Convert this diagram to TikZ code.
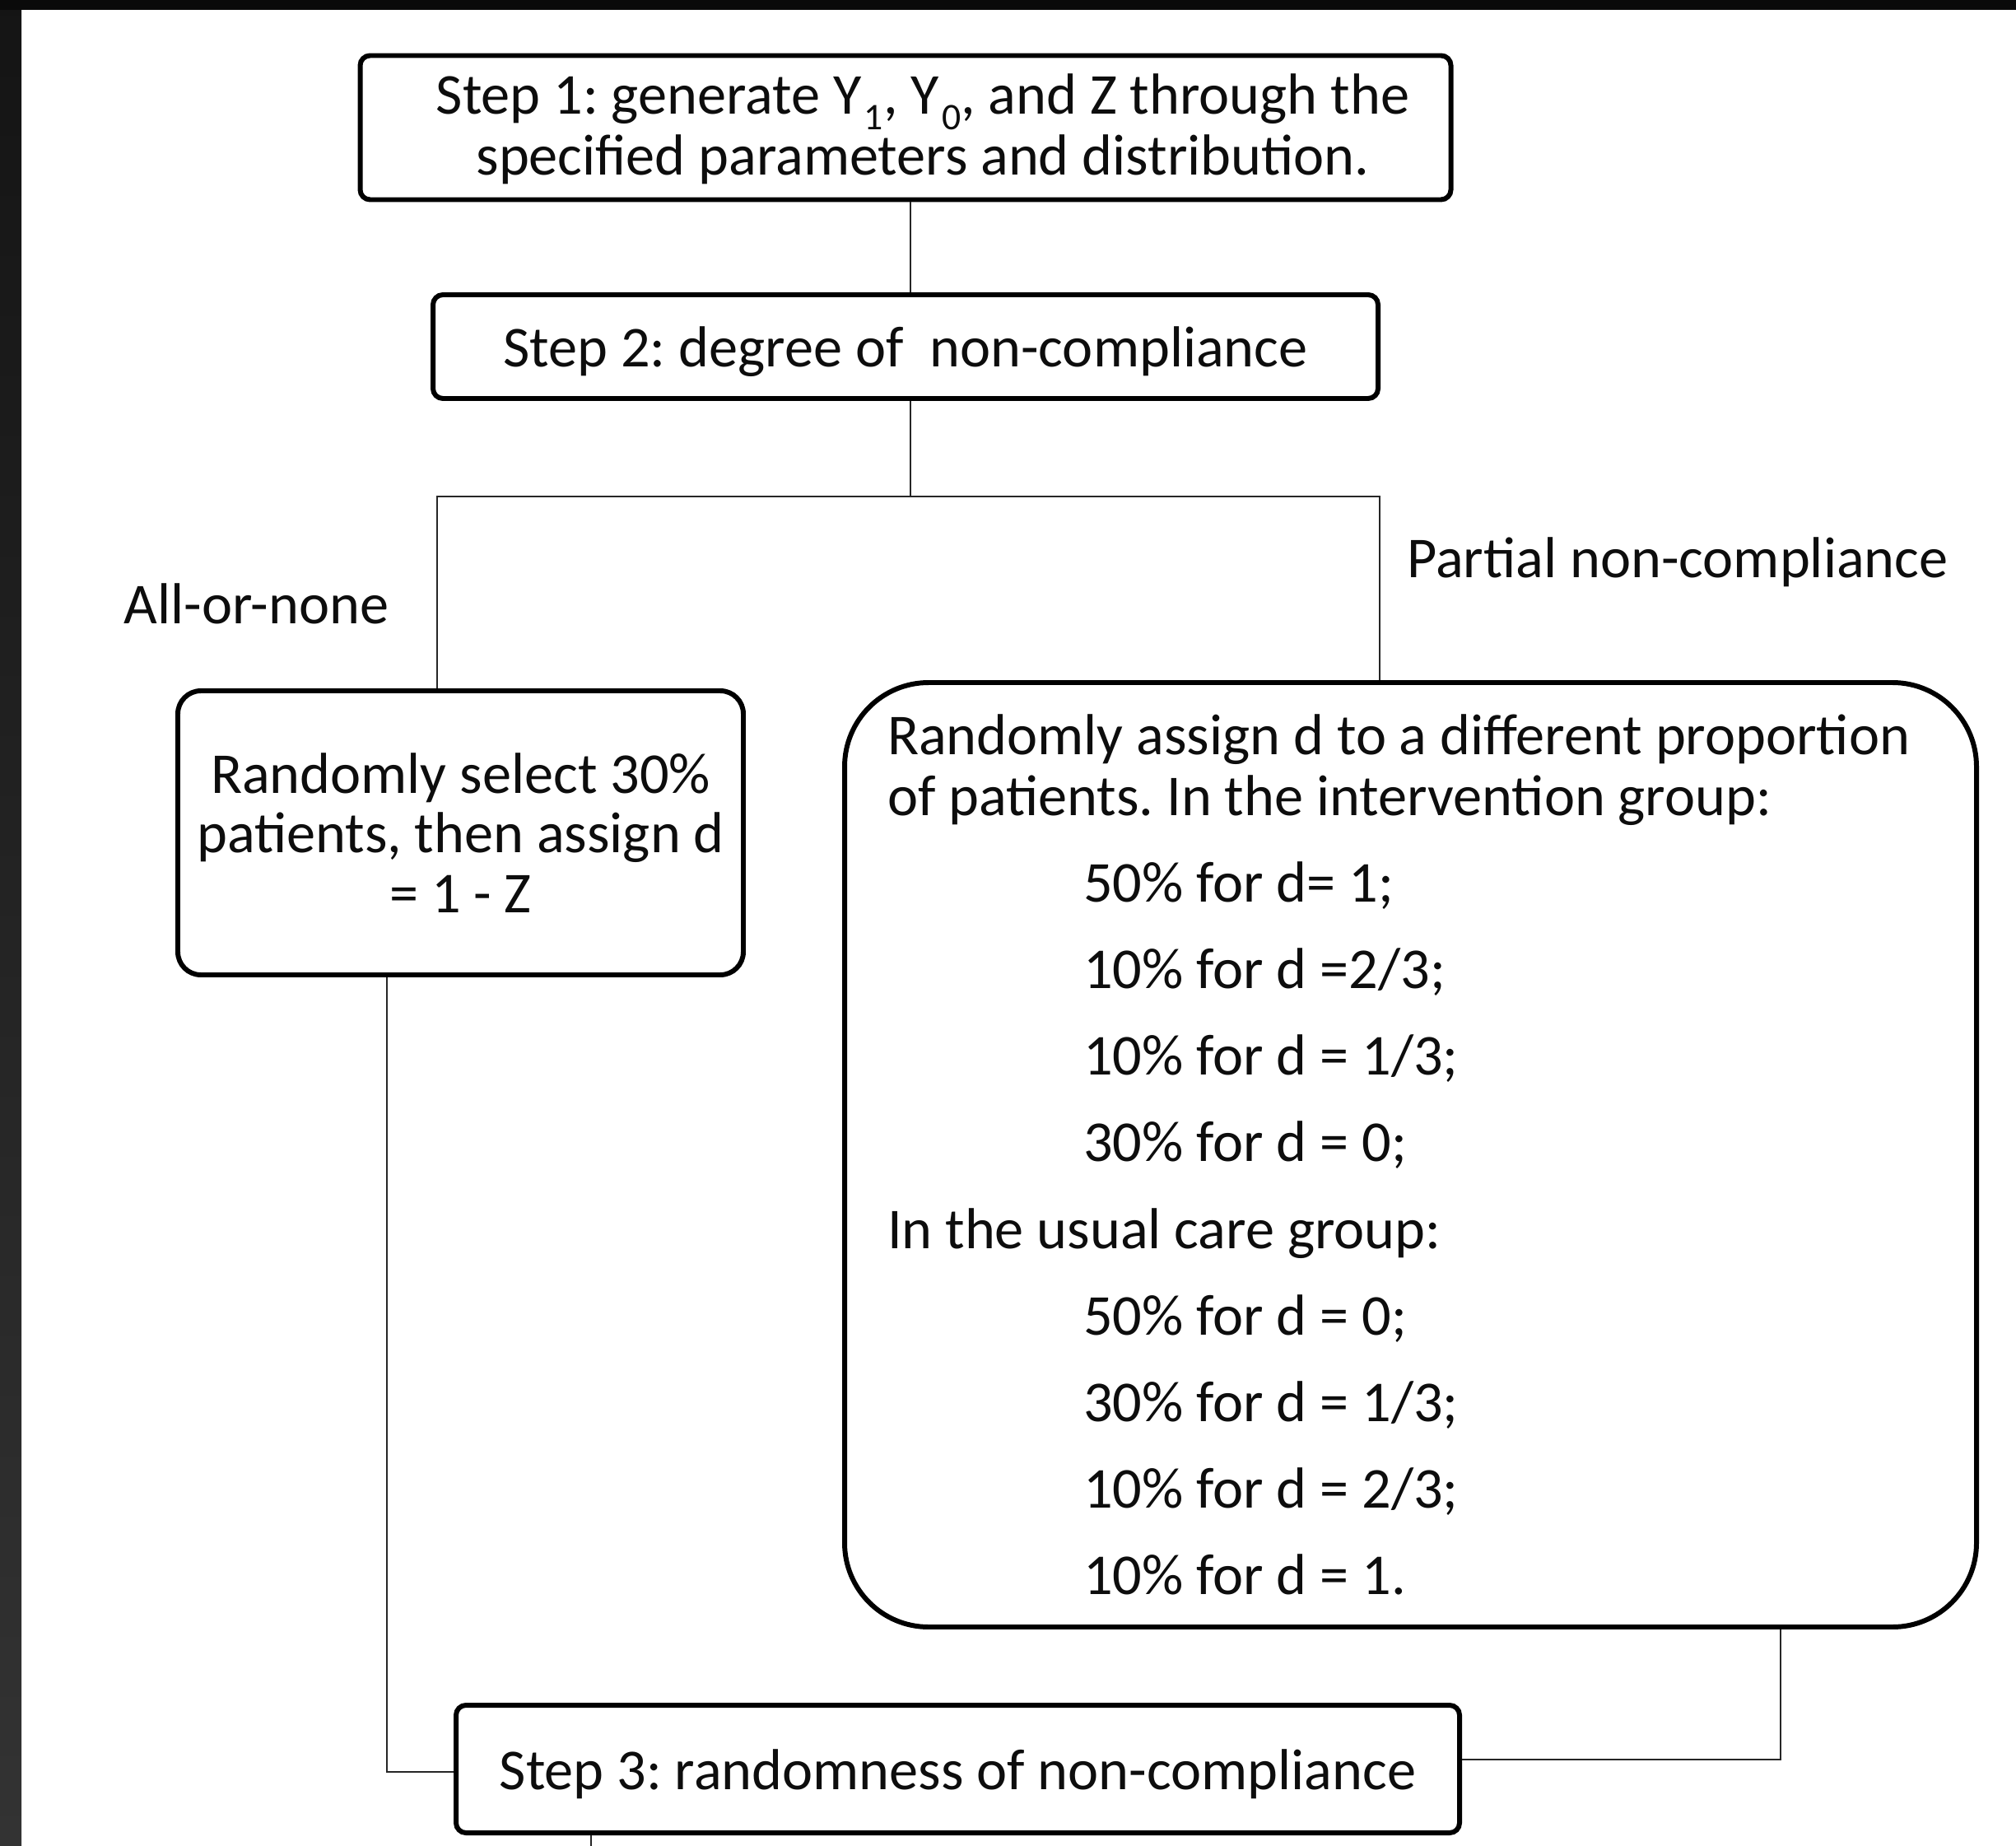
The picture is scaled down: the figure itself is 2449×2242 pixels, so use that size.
\documentclass[tikz,border=0pt]{standalone}
\usepackage{fontspec}
\setmainfont{Carlito}
% subscript set the way the word processor lowers it
\newcommand{\lowsub}[1]{\kern1pt\raisebox{-0.55ex}{\fontsize{13}{13}\selectfont #1}}
% text lowered a little without changing the box it reports
\newcommand{\drop}[1]{\raisebox{-0.6mm}[\height][\depth]{#1}}
\begin{document}
\begin{tikzpicture}[x=0.1mm, y=-0.1mm,
  txt/.style={font=\fontsize{20}{21}\selectfont\frenchspacing, text=black!95},
  flowbox/.style={txt, draw=black, line width=1.7pt, fill=white, inner sep=0pt},
  stepbox/.style={flowbox, rounded corners=1.2mm},
  softbox/.style={flowbox, rounded corners=2.8mm},
  bigbox/.style={flowbox, rounded corners=10.2mm},
  conn/.style={draw=black!85, line width=0.8pt},
  tag/.style={txt, inner sep=0pt}]

% page and dark frame strips
\useasboundingbox (0,0) rectangle (2449,2242);
\fill[white] (0,0) rectangle (2449,2242);
\shade[top color=black!92, bottom color=black!80] (0,12) rectangle (26,2242);
\fill[black!96] (0,0) rectangle (2449,12);

% boxes
\node[stepbox, minimum width=132.5mm, minimum height=17.5mm] (step1) at (1100,155)
  {\hspace*{4.2mm}\drop{\begin{tabular}{@{}c@{}}Step 1: generate Y\lowsub{1}, Y\lowsub{0}, and Z through the\\
   specified parameters and distribution.\end{tabular}}};

\node[stepbox, minimum width=114.8mm, minimum height=12.6mm] (step2) at (1100,421)
  {\drop{Step 2: degree of\ \ non-compliance}};

\node[softbox, minimum width=68.7mm, minimum height=34.5mm, align=center,
  font=\fontsize{20}{20.6}\selectfont] (allbox) at (559.5,1011.5)
  {Randomly select 30\%\\ patients, then assign d\\ = 1 - Z};

\node[bigbox, minimum width=137.5mm, minimum height=114.7mm, text width=127.1mm,
  inner xsep=5.2mm, align=flush left] (partbox) at (1713.5,1402.5)
  {Randomly assign d to a different proportion\\
   of patients. In the intervention group:\\[8.9pt]
   \hspace*{23.8mm}50\% for d= 1;\\[8.9pt]
   \hspace*{23.8mm}10\% for d =2/3;\\[8.9pt]
   \hspace*{23.8mm}10\% for d = 1/3;\\[8.9pt]
   \hspace*{23.8mm}30\% for d = 0;\\[8.9pt]
   In the usual care group:\\[8.9pt]
   \hspace*{23.8mm}50\% for d = 0;\\[8.9pt]
   \hspace*{23.8mm}30\% for d = 1/3;\\[8.9pt]
   \hspace*{23.8mm}10\% for d = 2/3;\\[8.9pt]
   \hspace*{23.8mm}10\% for d = 1.};

\node[stepbox, minimum width=121.9mm, minimum height=15.5mm] (step3) at (1163.5,2148.5)
  {\drop{Step 3: randomness of non-compliance}};

% branch labels
\node[tag] (allnone) at (311.5,733) {All-or-none};
\node[tag] (partial) at (2038,683) {Partial non-compliance};

% junction points of the connectors
\coordinate (trunk) at (1106,603);
\coordinate (splitL) at (531,603);
\coordinate (splitR) at (1676,603);
\coordinate (joinL) at (470,2152);
\coordinate (joinR) at (2163,2137);
\coordinate (tail) at (718,2242);

% connectors
\draw[conn] (step1.south -| trunk) -- (step2.north -| trunk);
\draw[conn] (step2.south -| trunk) -- (trunk);
\draw[conn] (allbox.north -| splitL) -- (splitL) -- (splitR) -- (partbox.north -| splitR);
\draw[conn] (allbox.south -| joinL) -- (joinL) -- (step3.west |- joinL);
\draw[conn] (partbox.south -| joinR) -- (joinR) -- (step3.east |- joinR);
\draw[conn] (step3.south -| tail) -- (tail);
\end{tikzpicture}
\end{document}
